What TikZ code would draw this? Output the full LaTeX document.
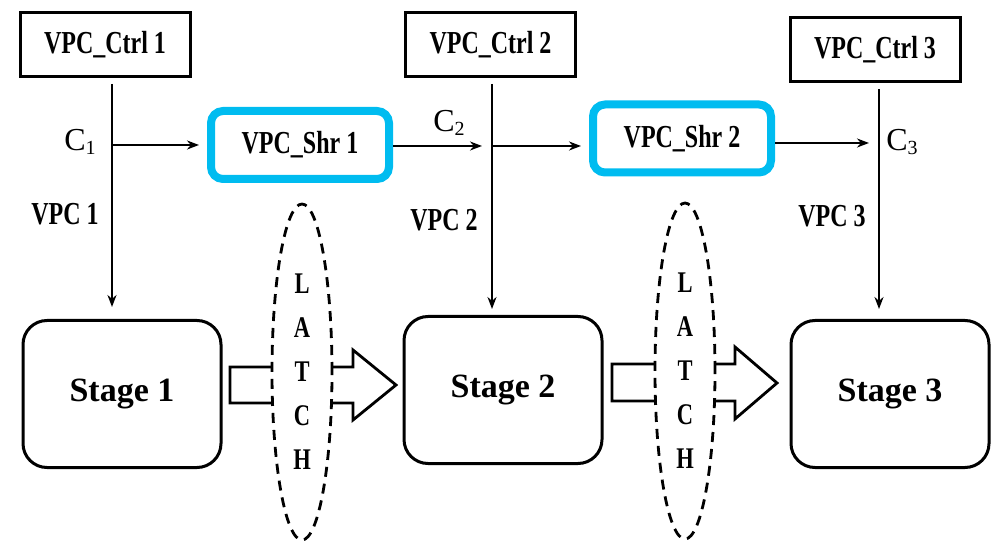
\documentclass[tikz,border=0pt]{standalone}
\usepackage{fontspec}
\setmainfont{Liberation Serif}
\newfontfamily\condfont[FakeStretch=0.75]{Liberation Serif}
\usetikzlibrary{shapes.geometric,arrows.meta}
\definecolor{shrcyan}{RGB}{0,188,240}

\begin{document}
\begin{tikzpicture}[x=0.5pt,y=-0.5pt,
    ctrlbox/.style={draw,line width=1.5pt,minimum width=85pt,minimum height=32pt,inner sep=0pt,
      font=\condfont\bfseries\fontsize{16}{18}\selectfont},
    shrbox/.style={draw=shrcyan,line width=4pt,rounded corners=6pt,minimum width=89pt,minimum height=34pt,inner sep=0pt,
      font=\condfont\bfseries\fontsize{16}{18}\selectfont},
    stagebox/.style={draw,line width=1.5pt,rounded corners=12pt,minimum width=99pt,minimum height=73.5pt,
      font=\bfseries\fontsize{17}{20}\selectfont},
    latch/.style={ellipse,draw,line width=1.4pt,dash pattern=on 5pt off 3.5pt,fill=white,inner sep=0pt,
      minimum width=30pt,minimum height=168pt,align=center,
      font=\condfont\bfseries\fontsize{15}{22}\selectfont},
    sig/.style={font=\fontsize{16}{18}\selectfont},
    vpc/.style={font=\condfont\bfseries\fontsize{16}{18}\selectfont},
    arr/.style={-{Stealth[length=6pt,width=4.5pt]},line width=1.3pt},
    blockarr/.style={draw,line width=1.4pt,fill=white}]
  \useasboundingbox (0,0) rectangle (994,544);

  % controllers
  \node (ctrlA) at (105,44.5) [ctrlbox] {VPC\_Ctrl 1};
  \node (ctrlB) at (490.5,44.5) [ctrlbox] {VPC\_Ctrl 2};
  \node (ctrlC) at (875,50) [ctrlbox] {VPC\_Ctrl 3};

  % shared units
  \node (shrA) at (300,145) [shrbox] {VPC\_Shr 1};
  \node (shrB) at (682,138.5) [shrbox] {VPC\_Shr 2};

  % stages
  \node (stageA) at (122,394) [stagebox] {Stage 1};
  \node (stageB) at (503,390) [stagebox] {Stage 2};
  \node (stageC) at (890,394) [stagebox] {Stage 3};

  \coordinate (tapA) at (112,145);
  \coordinate (tapB) at (492,146);
  \coordinate (tapC) at (879,143);

  % vertical control lines
  \draw[arr,shorten <=3pt,shorten >=6pt] (ctrlA.south -| tapA) -- (stageA.north -| tapA);
  \draw[arr,shorten <=3pt,shorten >=3pt] (ctrlB.south -| tapB) -- (stageB.north -| tapB);
  \draw[arr,shorten <=3pt,shorten >=5pt] (ctrlC.south -| tapC) -- (stageC.north -| tapC);

  % horizontal signal chain
  \draw[arr,shorten >=4pt] (tapA) -- (tapA -| shrA.west);
  \draw[arr,shorten >=5pt] (shrA.east |- tapB) -- (tapB);
  \draw[arr,shorten >=4pt] (tapB) -- (tapB -| shrB.west);
  \draw[arr,shorten >=5pt] (tapC -| shrB.east) -- (tapC);

  \node (cA) at (80,142) [sig] {C\raisebox{-2pt}{\fontsize{10}{10}\selectfont 1}};
  \node (cB) at (449,123) [sig] {C\raisebox{-2pt}{\fontsize{10}{10}\selectfont 2}};
  \node (cC) at (902,142) [sig] {C\raisebox{-2pt}{\fontsize{10}{10}\selectfont 3}};

  \node (vpcA) at (65,214) [vpc] {VPC 1};
  \node (vpcB) at (444,220) [vpc] {VPC 2};
  \node (vpcC) at (832,216) [vpc] {VPC 3};

  % block arrows through the latches
  \draw[blockarr] (230,367) -- (353,367) -- (353,350) -- (396,385) -- (353,420) -- (353,403) -- (230,403) -- cycle;
  \draw[blockarr] (612,364) -- (735,364) -- (735,347) -- (777,383) -- (735,419) -- (735,401) -- (612,401) -- cycle;

  \node (latchA) at (302,372) [latch] {L\\A\\T\\C\\H};
  \node (latchB) at (685,371) [latch] {L\\A\\T\\C\\H};
\end{tikzpicture}
\end{document}
